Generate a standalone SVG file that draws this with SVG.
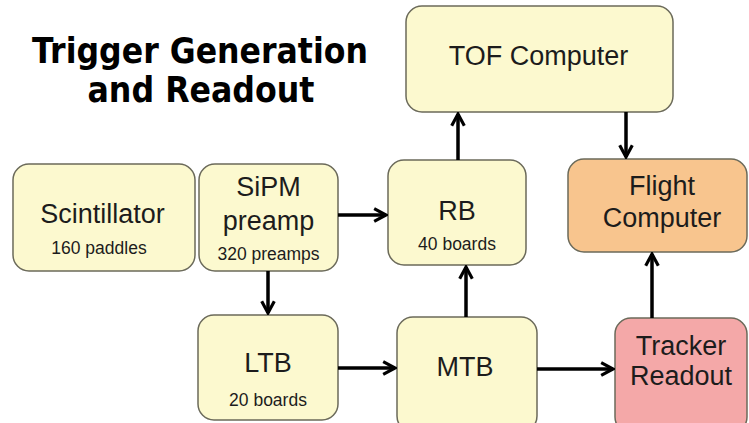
<svg xmlns="http://www.w3.org/2000/svg" width="749" height="423" viewBox="0 0 749 423">
<style>
.box{stroke:#6b6a5a;stroke-width:1.5}
.y{fill:#fcf9cf}
.o{fill:#f8c58e}
.p{fill:#f4a8a8}
.t{font-family:"Liberation Sans",Arial,sans-serif;fill:#1c1c1c;text-anchor:middle}
.big{font-size:27px}
.small{font-size:17.5px}
.title{font-family:"DejaVu Sans",Verdana,sans-serif;font-weight:bold;font-size:35px;fill:#000;text-anchor:middle}
.c{stroke:#000;stroke-width:3.5;fill:none;marker-end:url(#ah)}
</style>
<defs>
<marker id="ah" viewBox="0 0 10 10" refX="8.5" refY="5" markerWidth="4.5" markerHeight="4.5" orient="auto" markerUnits="strokeWidth">
<path d="M1,1 L8.5,5 L1,9" fill="none" stroke="#000" stroke-width="2"/>
</marker>
</defs>
<rect width="749" height="423" fill="#fff"/>
<g id="title">
<text class="title" x="200" y="63" textLength="336" lengthAdjust="spacingAndGlyphs">Trigger Generation</text>
<text class="title" x="201" y="102" textLength="227" lengthAdjust="spacingAndGlyphs">and Readout</text>
</g>
<g id="tof">
<rect class="box y" x="406" y="6" width="267" height="106" rx="16"/>
<text class="t big" x="538.5" y="65">TOF Computer</text>
</g>
<g id="scintillator">
<rect class="box y" x="13" y="164" width="182" height="107" rx="16"/>
<text class="t big" x="102.5" y="223">Scintillator</text>
<text class="t small" x="99" y="254">160 paddles</text>
</g>
<g id="sipm">
<rect class="box y" x="199" y="164" width="139" height="107" rx="16"/>
<text class="t big" x="268.5" y="196">SiPM</text>
<text class="t big" x="268.5" y="230">preamp</text>
<text class="t small" x="268.5" y="260">320 preamps</text>
</g>
<g id="rb">
<rect class="box y" x="388" y="160" width="138" height="105" rx="16"/>
<text class="t big" x="457" y="220">RB</text>
<text class="t small" x="457" y="250">40 boards</text>
</g>
<g id="flight">
<rect class="box o" x="568" y="159" width="179" height="93" rx="16"/>
<text class="t big" x="662" y="195">Flight</text>
<text class="t big" x="662" y="227">Computer</text>
</g>
<g id="ltb">
<rect class="box y" x="198" y="315" width="140" height="105" rx="16"/>
<text class="t big" x="268" y="372">LTB</text>
<text class="t small" x="268" y="406">20 boards</text>
</g>
<g id="mtb">
<rect class="box y" x="397" y="317" width="140" height="115" rx="16"/>
<text class="t big" x="465" y="376">MTB</text>
</g>
<g id="tracker">
<rect class="box p" x="615" y="318" width="132" height="115" rx="16"/>
<text class="t big" x="681" y="355">Tracker</text>
<text class="t big" x="681" y="385">Readout</text>
</g>
<g id="connectors">
<line class="c" x1="338" y1="215" x2="386" y2="215"/>
<line class="c" x1="458" y1="160" x2="458" y2="114"/>
<line class="c" x1="626" y1="112" x2="626" y2="157"/>
<line class="c" x1="268" y1="271" x2="268" y2="313"/>
<line class="c" x1="338" y1="368" x2="395" y2="368"/>
<line class="c" x1="466" y1="317" x2="466" y2="267"/>
<line class="c" x1="537" y1="369" x2="613" y2="369"/>
<line class="c" x1="652" y1="318" x2="652" y2="254"/>
</g>
</svg>
